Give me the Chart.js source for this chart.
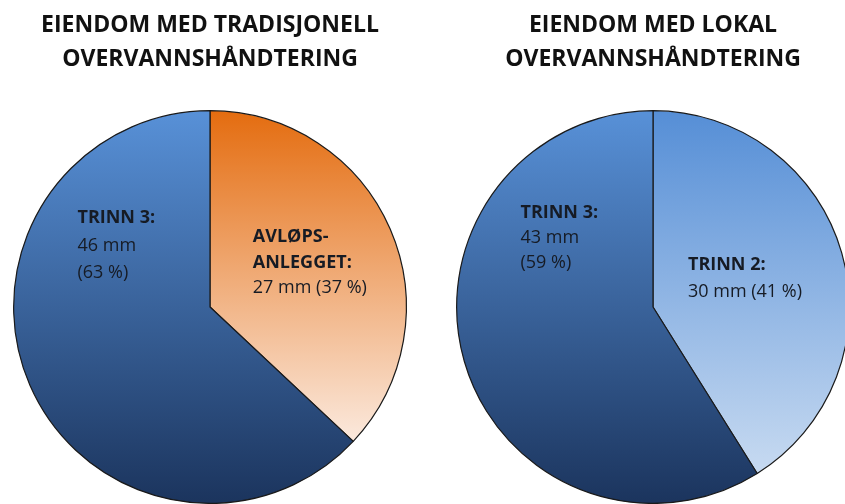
<!DOCTYPE html>
<html>
<head>
    <script src="https://cdn.jsdelivr.net/npm/chart.js"></script>
    <style>
        body { margin: 0; background: #fff; overflow: hidden; width: 845px; height: 504px; position: relative; }
        .pie { position: absolute; top: 0; width: 420px; height: 504px; }
    </style>
</head>
<body>
    <div class="pie" style="left: 0;"><canvas id="leftChart" width="420" height="504"></canvas></div>
    <div class="pie" style="left: 443px;"><canvas id="rightChart" width="420" height="504"></canvas></div>

    <script>
        // data: traditional handling (left) and local handling (right), mm of rain
        const leftTitle = ['EIENDOM MED TRADISJONELL', 'OVERVANNSHÅNDTERING'];
        const leftCategories = ['AVLØPS-ANLEGGET', 'TRINN 3'];
        const leftValues = [27, 46];
        const leftPercents = [37, 63];

        const rightTitle = ['EIENDOM MED LOKAL', 'OVERVANNSHÅNDTERING'];
        const rightCategories = ['TRINN 2', 'TRINN 3'];
        const rightValues = [30, 43];
        const rightPercents = [41, 59];

        const FONT = '"Open Sans", sans-serif';

        // one vertical gradient per slice: [top colour, bottom colour, where the bottom colour is reached]
        function vGradient(colors) {
            return function(context) {
                const stops = colors[context.dataIndex];
                const chart = context.chart;
                const area = chart.chartArea;
                if (!area) return stops[0];
                const g = chart.ctx.createLinearGradient(0, area.top, 0, area.bottom);
                g.addColorStop(0, stops[0]);
                g.addColorStop(stops[2], stops[1]);
                g.addColorStop(1, stops[1]);
                return g;
            };
        }

        // draws the text inside each slice, placed relative to centre and radius
        const sliceText = {
            id: 'sliceText',
            afterDatasetsDraw(chart, args, opts) {
                const ctx = chart.ctx;
                const arcs = chart.getDatasetMeta(0).data;
                opts.items.forEach((item, i) => {
                    const arc = arcs[i];
                    const x = arc.x + item.dx * arc.outerRadius;
                    let y = arc.y + item.dy * arc.outerRadius;
                    ctx.save();
                    ctx.fillStyle = '#161b24';
                    ctx.textAlign = 'left';
                    ctx.textBaseline = 'middle';
                    item.bold.forEach(line => {
                        ctx.font = 'bold 18px ' + FONT;
                        ctx.fillText(line, x, y);
                        y += item.gap;
                    });
                    item.normal.forEach(line => {
                        ctx.font = '18px ' + FONT;
                        ctx.fillText(line, x, y);
                        y += item.gap;
                    });
                    ctx.restore();
                });
            }
        };

        function makePie(id, title, categories, values, colors, items) {
            return new Chart(document.getElementById(id), {
                type: 'pie',
                data: {
                    labels: categories,
                    datasets: [{
                        data: values,
                        backgroundColor: vGradient(colors),
                        borderColor: '#1a1a1a',
                        borderWidth: 1.2
                    }]
                },
                options: {
                    responsive: false,
                    animation: false,
                    layout: { padding: { left: 10, right: 10, bottom: 0 } },
                    plugins: {
                        legend: { display: false },
                        tooltip: { enabled: false },
                        title: {
                            display: true,
                            text: title,
                            color: '#111',
                            font: { family: FONT, size: 23, weight: 'bold', lineHeight: 1.48 },
                            padding: { top: 8, bottom: 34 }
                        },
                        sliceText: { items: items }
                    }
                },
                plugins: [sliceText]
            });
        }

        makePie('leftChart', leftTitle, leftCategories, leftValues,
            [['#e46c0f', '#fbe9dd', 0.84], ['#5891d8', '#1b345d', 1]],
            [
                { dx: 0.218, dy: -0.355, gap: 25.5, bold: ['AVLØPS-', 'ANLEGGET:'], normal: [leftValues[0] + ' mm (' + leftPercents[0] + ' %)'] },
                { dx: -0.675, dy: -0.452, gap: 27.5, bold: ['TRINN 3:'], normal: [leftValues[1] + ' mm', '(' + leftPercents[1] + ' %)'] }
            ]);

        makePie('rightChart', rightTitle, rightCategories, rightValues,
            [['#558ed6', '#c7daf1', 0.92], ['#5891d8', '#1b345d', 1]],
            [
                { dx: 0.178, dy: -0.213, gap: 27, bold: ['TRINN 2:'], normal: [rightValues[0] + ' mm (' + rightPercents[0] + ' %)'] },
                { dx: -0.675, dy: -0.478, gap: 25, bold: ['TRINN 3:'], normal: [rightValues[1] + ' mm', '(' + rightPercents[1] + ' %)'] }
            ]);
    </script>
</body>
</html>
